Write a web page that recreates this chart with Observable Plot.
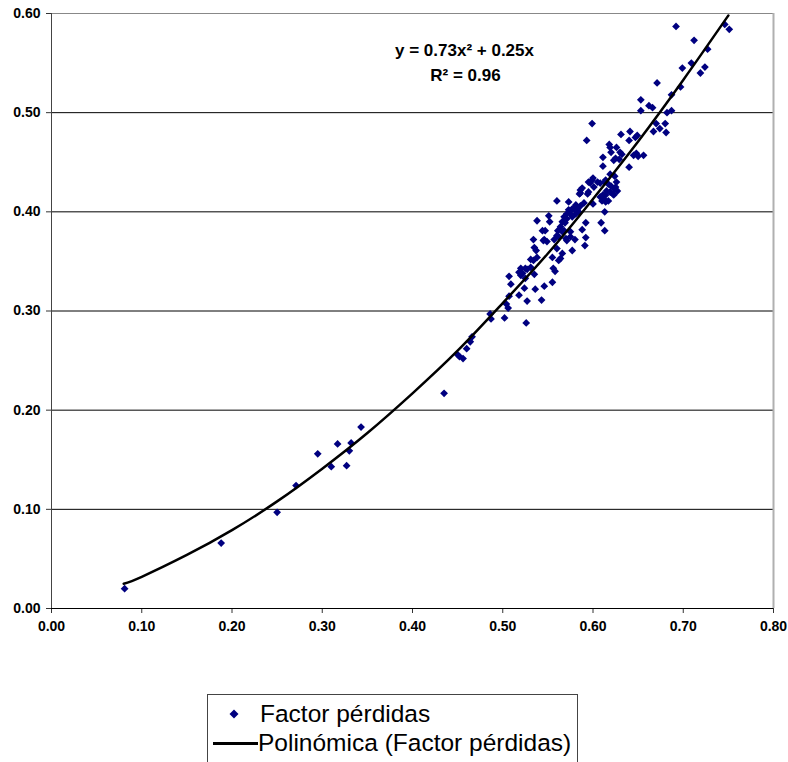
<!DOCTYPE html>
<html>
<head>
<meta charset="utf-8">
<script src="https://cdn.jsdelivr.net/npm/d3@7"></script>
<script src="https://cdn.jsdelivr.net/npm/@observablehq/plot@0.6"></script>
<style>
  html, body { margin: 0; padding: 0; background: #fff; }
  body { width: 788px; height: 762px; overflow: hidden; position: relative; font-family: Arial, "Liberation Sans", sans-serif; }
  #chart { position: absolute; left: 0; top: 0; }
  #legend { position: absolute; left: 207px; top: 694px; width: 371px; height: 90px; border: 1px solid #444; box-sizing: border-box; }
  .lg { position: absolute; font-size: 24.5px; color: #000; white-space: nowrap; line-height: 1; }
</style>
</head>
<body>
<div id="chart"></div>
<div id="legend"></div>
<script>
// Scatter data: "Factor pérdidas" (x, y)
const factorX = [
  0.081,0.188,0.250,0.271,0.295,0.310,0.317,0.327,0.330,0.332,0.343,0.435,
  0.450,0.452,0.456,0.460,0.464,0.466,0.486,0.487,0.502,0.504,0.506,0.526,
  0.527,0.543,0.507,0.518,0.509,0.524,0.536,0.546,0.555,0.507,0.518,0.527,
  0.535,0.520,0.525,0.520,0.522,0.525,0.531,0.556,0.558,0.531,0.534,0.538,
  0.555,0.564,0.562,0.566,0.535,0.537,0.560,0.577,0.534,0.546,0.544,0.545,
  0.549,0.557,0.560,0.562,0.566,0.570,0.571,0.575,0.580,0.592,0.591,0.547,
  0.561,0.575,0.588,0.564,0.568,0.538,0.552,0.551,0.566,0.568,0.571,0.569,
  0.592,0.609,0.613,0.571,0.575,0.581,0.577,0.584,0.613,0.573,0.577,0.583,
  0.579,0.582,0.586,0.581,0.590,0.600,0.560,0.573,0.608,0.610,0.614,0.613,
  0.617,0.611,0.623,0.615,0.625,0.586,0.595,0.588,0.586,0.594,0.585,0.597,
  0.600,0.608,0.613,0.619,0.624,0.599,0.595,0.601,0.605,0.614,0.617,0.620,
  0.624,0.619,0.614,0.622,0.626,0.627,0.611,0.611,0.623,0.625,0.629,0.640,
  0.618,0.619,0.626,0.620,0.630,0.632,0.645,0.648,0.650,0.656,0.593,0.599,
  0.631,0.640,0.649,0.647,0.641,0.653,0.653,0.662,0.666,0.667,0.670,0.674,
  0.680,0.681,0.682,0.687,0.671,0.687,0.697,0.699,0.709,0.719,0.724,0.727,
  0.692,0.712,0.746,0.751
];
const factorY = [
  0.020,0.066,0.097,0.124,0.156,0.143,0.166,0.144,0.159,0.167,0.183,0.217,
  0.256,0.254,0.252,0.262,0.269,0.274,0.297,0.292,0.293,0.307,0.303,0.288,
  0.310,0.311,0.315,0.316,0.327,0.323,0.322,0.325,0.329,0.335,0.339,0.342,
  0.337,0.336,0.333,0.343,0.338,0.343,0.344,0.343,0.340,0.352,0.351,0.354,
  0.354,0.353,0.351,0.358,0.364,0.361,0.363,0.361,0.372,0.372,0.381,0.371,
  0.370,0.372,0.376,0.375,0.380,0.373,0.371,0.375,0.372,0.374,0.366,0.381,
  0.381,0.380,0.382,0.385,0.381,0.391,0.390,0.396,0.390,0.395,0.393,0.389,
  0.389,0.389,0.381,0.398,0.398,0.398,0.395,0.400,0.400,0.402,0.403,0.403,
  0.403,0.405,0.406,0.407,0.409,0.408,0.411,0.410,0.415,0.411,0.410,0.412,
  0.411,0.417,0.417,0.421,0.425,0.419,0.420,0.424,0.422,0.418,0.418,0.429,
  0.434,0.429,0.430,0.438,0.436,0.432,0.430,0.425,0.430,0.432,0.428,0.426,
  0.423,0.420,0.417,0.418,0.430,0.421,0.446,0.455,0.452,0.454,0.453,0.445,
  0.468,0.465,0.465,0.460,0.460,0.458,0.457,0.459,0.456,0.457,0.472,0.489,
  0.478,0.472,0.477,0.475,0.481,0.502,0.513,0.507,0.505,0.481,0.489,0.484,
  0.489,0.480,0.500,0.502,0.530,0.518,0.526,0.545,0.550,0.540,0.546,0.564,
  0.587,0.573,0.589,0.584
];
// Polynomial trend line "Polinómica (Factor pérdidas)"
const trendX = [0.08,0.10,0.15,0.20,0.25,0.30,0.35,0.40,0.45,0.50,0.55,0.60,0.65,0.70,0.75];
const trendY = [0.025,0.032,0.054,0.079,0.108,0.141,0.177,0.217,0.260,0.308,0.358,0.413,0.471,0.533,0.598];
// Axis ticks
const xTicks = [0,0.1,0.2,0.3,0.4,0.5,0.6,0.7,0.8];
const yTicks = [0,0.1,0.2,0.3,0.4,0.5,0.6];
const gridY = [0.1,0.2,0.3,0.4,0.5];
// Labels
const seriesName = "Factor pérdidas";
const trendName = "Polinómica (Factor pérdidas)";
const equationLines = ["y = 0.73x² + 0.25x", "R² = 0.96"];

const points = factorX.map((x, i) => ({x, y: factorY[i]}));
const trend = trendX.map((x, i) => ({x, y: trendY[i]}));
const fmt = d3.format(".2f");
const navy = "#000080";

const chart = Plot.plot({
  width: 788,
  height: 650,
  marginLeft: 51,
  marginRight: 15,
  marginTop: 13,
  marginBottom: 42,
  style: {fontFamily: "Arial, 'Liberation Sans', sans-serif", fontSize: "14px", fontWeight: "bold", color: "#000", background: "#fff"},
  x: {domain: [0, 0.8]},
  y: {domain: [0, 0.6]},
  marks: [
    Plot.ruleY(gridY, {stroke: "#000", strokeWidth: 1}),
    Plot.ruleY([0.6], {stroke: "#888", strokeWidth: 1}),
    Plot.ruleX([0.8], {stroke: "#b0b0b0", strokeWidth: 2}),
    Plot.axisY({ticks: yTicks, tickFormat: fmt, tickSize: 5, tickPadding: 6, stroke: "#333", fontSize: 14, fontWeight: "bold", label: null}),
    Plot.axisX({ticks: xTicks, tickFormat: fmt, tickSize: 5, tickPadding: 8, stroke: "#333", fontSize: 14, fontWeight: "bold", label: null}),
    Plot.ruleX([0], {stroke: "#444", strokeWidth: 1}),
    Plot.ruleY([0], {stroke: "#000", strokeWidth: 1}),
    Plot.dot(points, {x: "x", y: "y", symbol: "diamond2", r: 3.5, fill: navy, stroke: "none"}),
    Plot.line(trend, {x: "x", y: "y", stroke: "#000", strokeWidth: 2.5, curve: "natural"}),
    Plot.text([equationLines[0]], {frameAnchor: "top-left", dx: 413, dy: 37, fontSize: 17, fontWeight: "bold", textAnchor: "middle", lineAnchor: "middle"}),
    Plot.text([equationLines[1]], {frameAnchor: "top-left", dx: 414, dy: 62, fontSize: 17, fontWeight: "bold", textAnchor: "middle", lineAnchor: "middle"})
  ]
});
document.getElementById("chart").appendChild(chart);

// Legend (below the SVG)
const body = document.body;
const sym = document.createElementNS("http://www.w3.org/2000/svg", "svg");
sym.setAttribute("width", 12); sym.setAttribute("height", 12);
sym.style.position = "absolute"; sym.style.left = "228px"; sym.style.top = "708px";
const poly = document.createElementNS("http://www.w3.org/2000/svg", "polygon");
poly.setAttribute("points", "6,1.5 10.5,6 6,10.5 1.5,6");
poly.setAttribute("fill", navy);
sym.appendChild(poly);
body.appendChild(sym);

const t1 = document.createElement("div");
t1.className = "lg"; t1.textContent = seriesName;
t1.style.left = "260px"; t1.style.top = "702px";
body.appendChild(t1);

const ln = document.createElement("div");
ln.style.cssText = "position:absolute;left:213px;top:742px;width:45px;height:3px;background:#000;";
body.appendChild(ln);

const t2 = document.createElement("div");
t2.className = "lg"; t2.textContent = trendName;
t2.style.left = "258px"; t2.style.top = "731px";
body.appendChild(t2);
</script>
</body>
</html>
